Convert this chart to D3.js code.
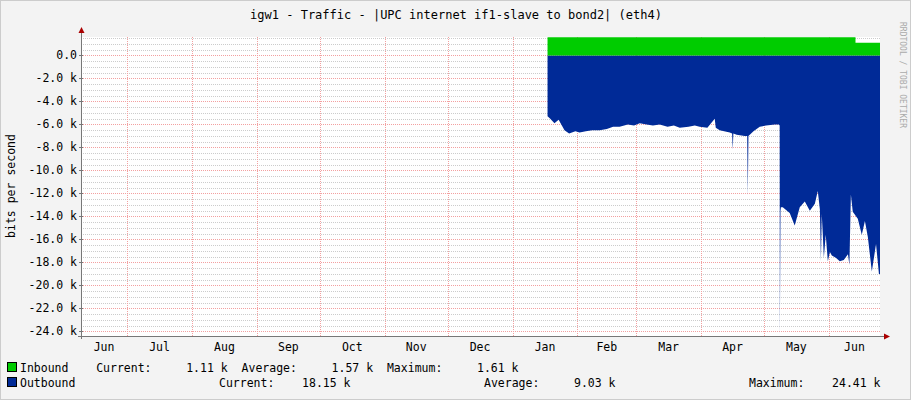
<!DOCTYPE html>
<html><head><meta charset="utf-8">
<script src="https://cdn.jsdelivr.net/npm/d3@7"></script>
<style>body{margin:0;background:#f3f3f3}svg{display:block;font-family:"DejaVu Sans Mono",monospace}</style>
</head><body><svg id="c" width="911" height="400"></svg>
<script>
const monthLabels=["Jun","Jul","Aug","Sep","Oct","Nov","Dec","Jan","Feb","Mar","Apr","May","Jun"];
const yTicks=[0,-2000,-4000,-6000,-8000,-10000,-12000,-14000,-16000,-18000,-20000,-22000,-24000];
// days since Jan 1 2011, outbound (negative bits/s)
const outDays=[16.7,18,20,22,24.8,27,30,32,35,38,41.6,45,48,51.1,55,58,60.7,64,67,70.2,74,77,79.8,84,87,89.3,93,96.5,97,98.9,101,103.7,104.8,105.1,105.4,107,110.8,112.0,112.3,112.6,115,118,121,125.2,127.1,127.5,127.6,127.9,128.1,129,132.3,134.7,137.1,139.5,141.9,144.3,145.7,146.7,147.2,147.6,148.1,148.6,149.5,150.5,151.5,152.4,154.3,156.2,158.1,160.1,160.8,161.5,162.4,164.8,166.7,168.2,169.6,171.5,173.5,174.9];
const outVals=[-5300,-5500,-5900,-5600,-6500,-6800,-6600,-6700,-6600,-6500,-6500,-6400,-6200,-6200,-6000,-6100,-5900,-6000,-6100,-6000,-6200,-6100,-6300,-6200,-6100,-6200,-6300,-5500,-6300,-6500,-6600,-6700,-6800,-8200,-6800,-6900,-7000,-7000,-12200,-7000,-6600,-6200,-6100,-6000,-6000,-6100,-24400,-13500,-13200,-13200,-13700,-14800,-13200,-12700,-13500,-12900,-11800,-13400,-17900,-13800,-15600,-17600,-15600,-17900,-17100,-17400,-17600,-17900,-17800,-17300,-18200,-12100,-13600,-14200,-15600,-14400,-15800,-18800,-16400,-19000];
const inStart=16.7, inSwitch=163.7, inEnd=175.4;
const inVals=[1570,1110];

const svg=d3.select("#c");
const L=81,R=880,T=37,B=336;
const base=new Date(2011,0,1);
const d=n=>new Date(base.getTime()+n*86400000);
const x=d3.scaleTime().domain([d(-206),d(175.4)]).range([L,R]);
const y=d3.scaleLinear().domain([-24400,1600]).range([B,T]);
svg.append("rect").attr("x",0.5).attr("y",0.5).attr("width",910).attr("height",399).attr("fill","#f3f3f3").attr("stroke","#ccc");
svg.append("rect").attr("x",L).attr("y",T).attr("width",R-L).attr("height",B-T).attr("fill","#fff");
// minor grid
const g=svg.append("g");
for(let v=1500;v>=-24000;v-=500){ if(v%2000===0) continue;
 g.append("line").attr("x1",L).attr("x2",R).attr("y1",Math.round(y(v))+.5).attr("y2",Math.round(y(v))+.5).attr("stroke","#ccc").attr("stroke-dasharray","1,1");}
const monthStarts=d3.timeMonth.range(d(-206),d(175.4));
monthStarts.forEach(m=>g.append("line").attr("x1",Math.round(x(m))+.5).attr("x2",Math.round(x(m))+.5).attr("y1",T).attr("y2",B).attr("stroke","#f3a0a0").attr("stroke-dasharray","1,1"));
yTicks.forEach(v=>g.append("line").attr("x1",L).attr("x2",R).attr("y1",Math.round(y(v))+.5).attr("y2",Math.round(y(v))+.5).attr("stroke","#f3a0a0").attr("stroke-dasharray","1,1"));
// areas
const outData=outDays.map((t,i)=>[d(t),outVals[i]]);
outData.push([d(inEnd),outVals[outVals.length-1]]);
svg.append("path").datum(outData).attr("fill","#002a97").attr("d",d3.area().x(p=>x(p[0])).y0(y(0)).y1(p=>y(p[1])));
const inData=[[d(inStart),inVals[0]],[d(inSwitch),inVals[0]],[d(inSwitch),inVals[1]],[d(inEnd),inVals[1]]];
svg.append("path").datum(inData).attr("fill","#00cc00").attr("d",d3.area().x(p=>x(p[0])).y0(y(0)).y1(p=>y(p[1])));
// axes
svg.append("line").attr("x1",L+.5).attr("x2",L+.5).attr("y1",B+3).attr("y2",T-6).attr("stroke","#777");
svg.append("line").attr("x1",L-3).attr("x2",R+4).attr("y1",B+.5).attr("y2",B+.5).attr("stroke","#777");
svg.append("path").attr("d",`M${L-2.5},${T-4}L${L+3.5},${T-4}L${L+.5},${T-10}Z`).attr("fill","#a00");
svg.append("path").attr("d",`M${R+4},${B-2.5}L${R+4},${B+3.5}L${R+10},${B+.5}Z`).attr("fill","#a00");
yTicks.forEach(v=>{svg.append("line").attr("x1",L-2).attr("x2",L+2).attr("y1",Math.round(y(v))+.5).attr("y2",Math.round(y(v))+.5).attr("stroke","#777");
 svg.append("text").attr("x",L-4).attr("y",y(v)+4).attr("text-anchor","end").attr("font-size",11.5).attr("fill","#000").text(v===0?"0.0 ":(v/1000).toFixed(1)+" k");});
// month labels centered
const allMonths=d3.timeMonth.range(d3.timeMonth.floor(d(-206)),d(175.4));
allMonths.forEach((m,i)=>{const s=Math.max(+m,+d(-206)),e=Math.min(+d3.timeMonth.offset(m,1),+d(175.4));
 svg.append("text").attr("x",(x(new Date(s))+x(new Date(e)))/2).attr("y",351).attr("text-anchor","middle").attr("font-size",11.5).text(monthLabels[i]);});
svg.append("text").attr("x",456).attr("y",19).attr("text-anchor","middle").attr("font-size",12).text("igw1 - Traffic - |UPC internet if1-slave to bond2| (eth4)");
svg.append("text").attr("transform","translate(15,186)rotate(-90)").attr("text-anchor","middle").attr("font-size",11.5).text("bits per second");
svg.append("text").attr("transform","translate(900,75)rotate(90)").attr("text-anchor","middle").attr("font-size",8).attr("fill","#aaa").text("RRDTOOL / TOBI OETIKER");
// legend
svg.append("rect").attr("x",7.5).attr("y",362.5).attr("width",9).attr("height",9).attr("fill","#00cc00").attr("stroke","#000");
svg.append("rect").attr("x",7.5).attr("y",377.5).attr("width",9).attr("height",9).attr("fill","#002a97").attr("stroke","#000");
const lt=(t,xx,yy)=>svg.append("text").attr("x",xx).attr("y",yy).attr("font-size",11.5).attr("xml:space","preserve").text(t);
lt("Inbound    Current:     1.11 k  Average:     1.57 k  Maximum:     1.61 k",20,372);
lt("Outbound",20,387);lt("Current:    18.15 k",219,387);lt("Average:     9.03 k",484,387);lt("Maximum:    24.41 k",749,387);
</script></body></html>
